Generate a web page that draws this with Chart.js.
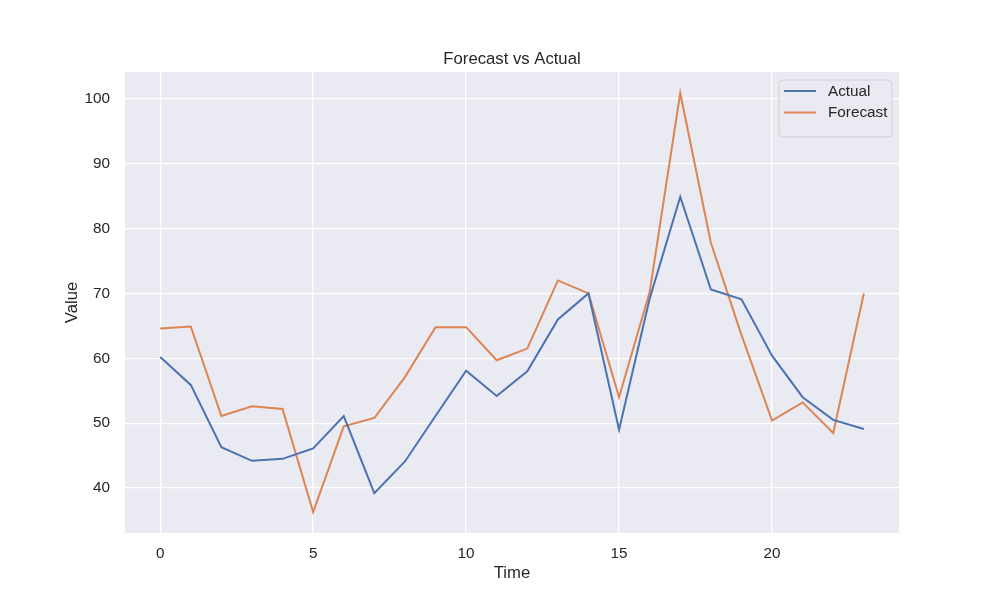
<!DOCTYPE html>
<html>
<head>
<meta charset="utf-8">
<script src="https://cdn.jsdelivr.net/npm/chart.js@4"></script>
<style>
  html, body { margin:0; padding:0; background:#fff; }
  #wrap { width:1000px; height:600px; }
</style>
</head>
<body>
<div id="wrap"><canvas id="chart" width="1000" height="600"></canvas></div>
<script>
const time = [0,1,2,3,4,5,6,7,8,9,10,11,12,13,14,15,16,17,18,19,20,21,22,23];
const actual = [60.2,55.9,46.3,44.2,44.5,46.1,51.1,39.2,44.1,51.1,58.1,54.2,58.0,66.0,70.0,49.0,69.2,84.9,70.6,69.1,60.4,54.0,50.5,49.1];
const forecast = [64.6,64.9,51.1,52.6,52.2,36.3,49.5,50.8,57.1,64.8,64.8,59.7,61.5,72.0,70.0,54.0,70.2,100.9,77.8,63.6,50.4,53.2,48.5,70.0];
const xTicks = [0,5,10,15,20];
const yTicks = [40,50,60,70,80,90,100];
const chartTitle = "Forecast vs Actual";

const FONT = "'Liberation Sans', Arial, sans-serif";
const TEXT = "#262626";

// plot background (seaborn darkgrid)
const plotBg = {
  id: "plotBg",
  beforeDraw(chart){
    const {ctx, chartArea:a} = chart;
    ctx.save();
    ctx.fillStyle = "#eaeaf2";
    ctx.fillRect(a.left, a.top, a.right - a.left, a.bottom - a.top);
    ctx.restore();
  }
};

// title centred over the axes, not the canvas
const axesTitle = {
  id: "axesTitle",
  afterDraw(chart){
    const {ctx, chartArea:a} = chart;
    ctx.save();
    ctx.font = "16.7px " + FONT;
    ctx.fillStyle = TEXT;
    ctx.textAlign = "center";
    ctx.textBaseline = "alphabetic";
    ctx.fillText(chartTitle, (a.left + a.right) / 2, a.top - 8);
    ctx.restore();
  }
};

// legend drawn inside the axes, top right
const innerLegend = {
  id: "innerLegend",
  afterDraw(chart){
    const {ctx, chartArea:a} = chart;
    const x0 = a.right - 120, y0 = a.top + 8, w = 113, h = 57;
    ctx.save();
    ctx.beginPath();
    ctx.roundRect(x0, y0, w, h, 4);
    ctx.fillStyle = "rgba(234,234,242,0.8)";
    ctx.fill();
    ctx.strokeStyle = "#d0d0d6";
    ctx.lineWidth = 1;
    ctx.stroke();
    ctx.font = "15.3px " + FONT;
    ctx.textBaseline = "middle";
    chart.data.datasets.forEach((ds, i) => {
      const y = y0 + 11 + i * 21.5;
      ctx.strokeStyle = ds.borderColor;
      ctx.lineWidth = 2;
      ctx.beginPath();
      ctx.moveTo(x0 + 5, y);
      ctx.lineTo(x0 + 37, y);
      ctx.stroke();
      ctx.fillStyle = TEXT;
      ctx.fillText(ds.label, x0 + 49, y + 0.5);
    });
    ctx.restore();
  }
};

new Chart(document.getElementById("chart"), {
  type: "line",
  data: {
    datasets: [
      { label: "Actual", data: time.map((t, i) => ({ x: t, y: actual[i] })),
        borderColor: "#4c72b0", borderWidth: 2, pointRadius: 0, tension: 0, fill: false },
      { label: "Forecast", data: time.map((t, i) => ({ x: t, y: forecast[i] })),
        borderColor: "#dd8452", borderWidth: 2, pointRadius: 0, tension: 0, fill: false }
    ]
  },
  options: {
    responsive: false,
    animation: false,
    layout: { padding: { left: 0, right: 101, top: 72, bottom: 0 } },
    plugins: {
      legend: { display: false },
      tooltip: { enabled: false },
      title: { display: false }
    },
    scales: {
      x: {
        type: "linear", min: -1.15, max: 24.15,
        afterBuildTicks: s => { s.ticks = xTicks.map(v => ({ value: v })); },
        afterFit: s => { s.height = 67; },
        ticks: { color: TEXT, font: { family: FONT, size: 15.3 }, padding: 12 },
        grid: { color: "#ffffff", lineWidth: 1.3, drawTicks: false },
        border: { display: false },
        title: { display: true, text: "Time", color: TEXT,
          font: { family: FONT, size: 16.7 }, padding: { top: 0, bottom: 17 } }
      },
      y: {
        type: "linear", min: 33.07, max: 104.13,
        afterBuildTicks: s => { s.ticks = yTicks.map(v => ({ value: v })); },
        afterFit: s => { s.width = 125; },
        ticks: { color: TEXT, font: { family: FONT, size: 15.3 }, padding: 15 },
        grid: { color: "#ffffff", lineWidth: 1.3, drawTicks: false },
        border: { display: false },
        title: { display: true, text: "Value", color: TEXT,
          font: { family: FONT, size: 16.7 }, padding: { top: 62, bottom: 0 } }
      }
    }
  },
  plugins: [plotBg, axesTitle, innerLegend]
});
</script>
</body>
</html>
